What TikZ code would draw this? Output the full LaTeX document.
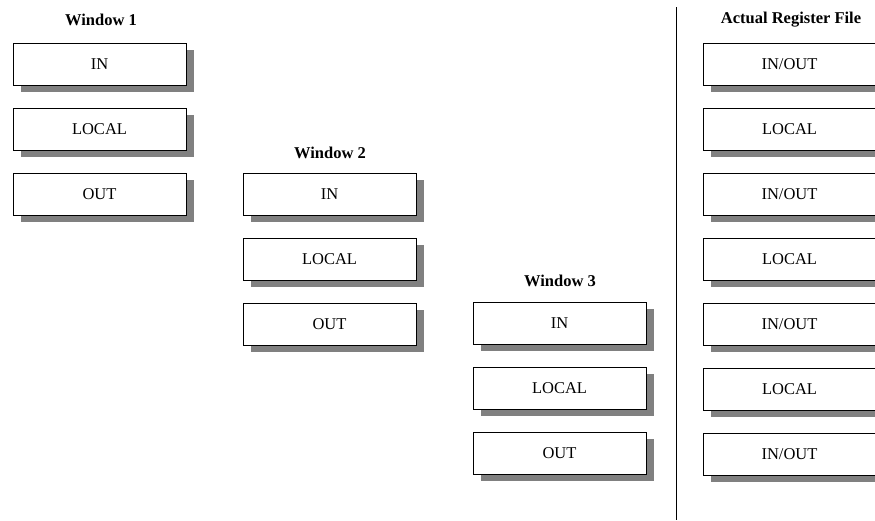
\documentclass[tikz,border=0pt]{standalone}
\usepackage{fontspec}
\setmainfont{Liberation Serif}
\usetikzlibrary{shadows}
\begin{document}
\begin{tikzpicture}[x=1pt,y=-1pt,
  regbox/.style={draw=black, line width=0.9pt, fill=white,
    minimum width=173pt, minimum height=42pt, inner sep=0pt,
    font=\fontsize{16.5}{19}\selectfont,
    general shadow={fill={rgb,255:red,128;green,128;blue,128},
      shadow xshift=7.5pt, shadow yshift=-7pt}},
  title/.style={font=\fontsize{16.5}{19}\selectfont\bfseries, inner sep=0pt}]
\clip (0,0) rectangle (875,520);
\useasboundingbox (0,0) rectangle (875,520);

% Window 1
\node[title] (t1) at (101,20) {Window 1};
\node[regbox] (w1in)  at (99.5,64)  {IN};
\node[regbox] (w1loc) at (99.5,129) {LOCAL};
\node[regbox] (w1out) at (99.5,194) {OUT};

% Window 2
\node[title] (t2) at (330,153) {Window 2};
\node[regbox] (w2in)  at (329.5,194) {IN};
\node[regbox] (w2loc) at (329.5,259) {LOCAL};
\node[regbox] (w2out) at (329.5,324) {OUT};

% Window 3
\node[title] (t3) at (560,281) {Window 3};
\node[regbox] (w3in)  at (559.5,323) {IN};
\node[regbox] (w3loc) at (559.5,388) {LOCAL};
\node[regbox] (w3out) at (559.5,453) {OUT};

% Divider
\coordinate (dtop) at (676,7);
\coordinate (dbot) at (676,520);
\draw[line width=0.9pt] (dtop) -- (dbot);

% Actual register file
\node[title] (tr) at (791,20) {Actual Register File};
\node[regbox] (r1) at (789.5,64)  {IN/OUT};
\node[regbox] (r2) at (789.5,129) {LOCAL};
\node[regbox] (r3) at (789.5,194) {IN/OUT};
\node[regbox] (r4) at (789.5,259) {LOCAL};
\node[regbox] (r5) at (789.5,324) {IN/OUT};
\node[regbox] (r6) at (789.5,389) {LOCAL};
\node[regbox] (r7) at (789.5,454) {IN/OUT};
\end{tikzpicture}
\end{document}
